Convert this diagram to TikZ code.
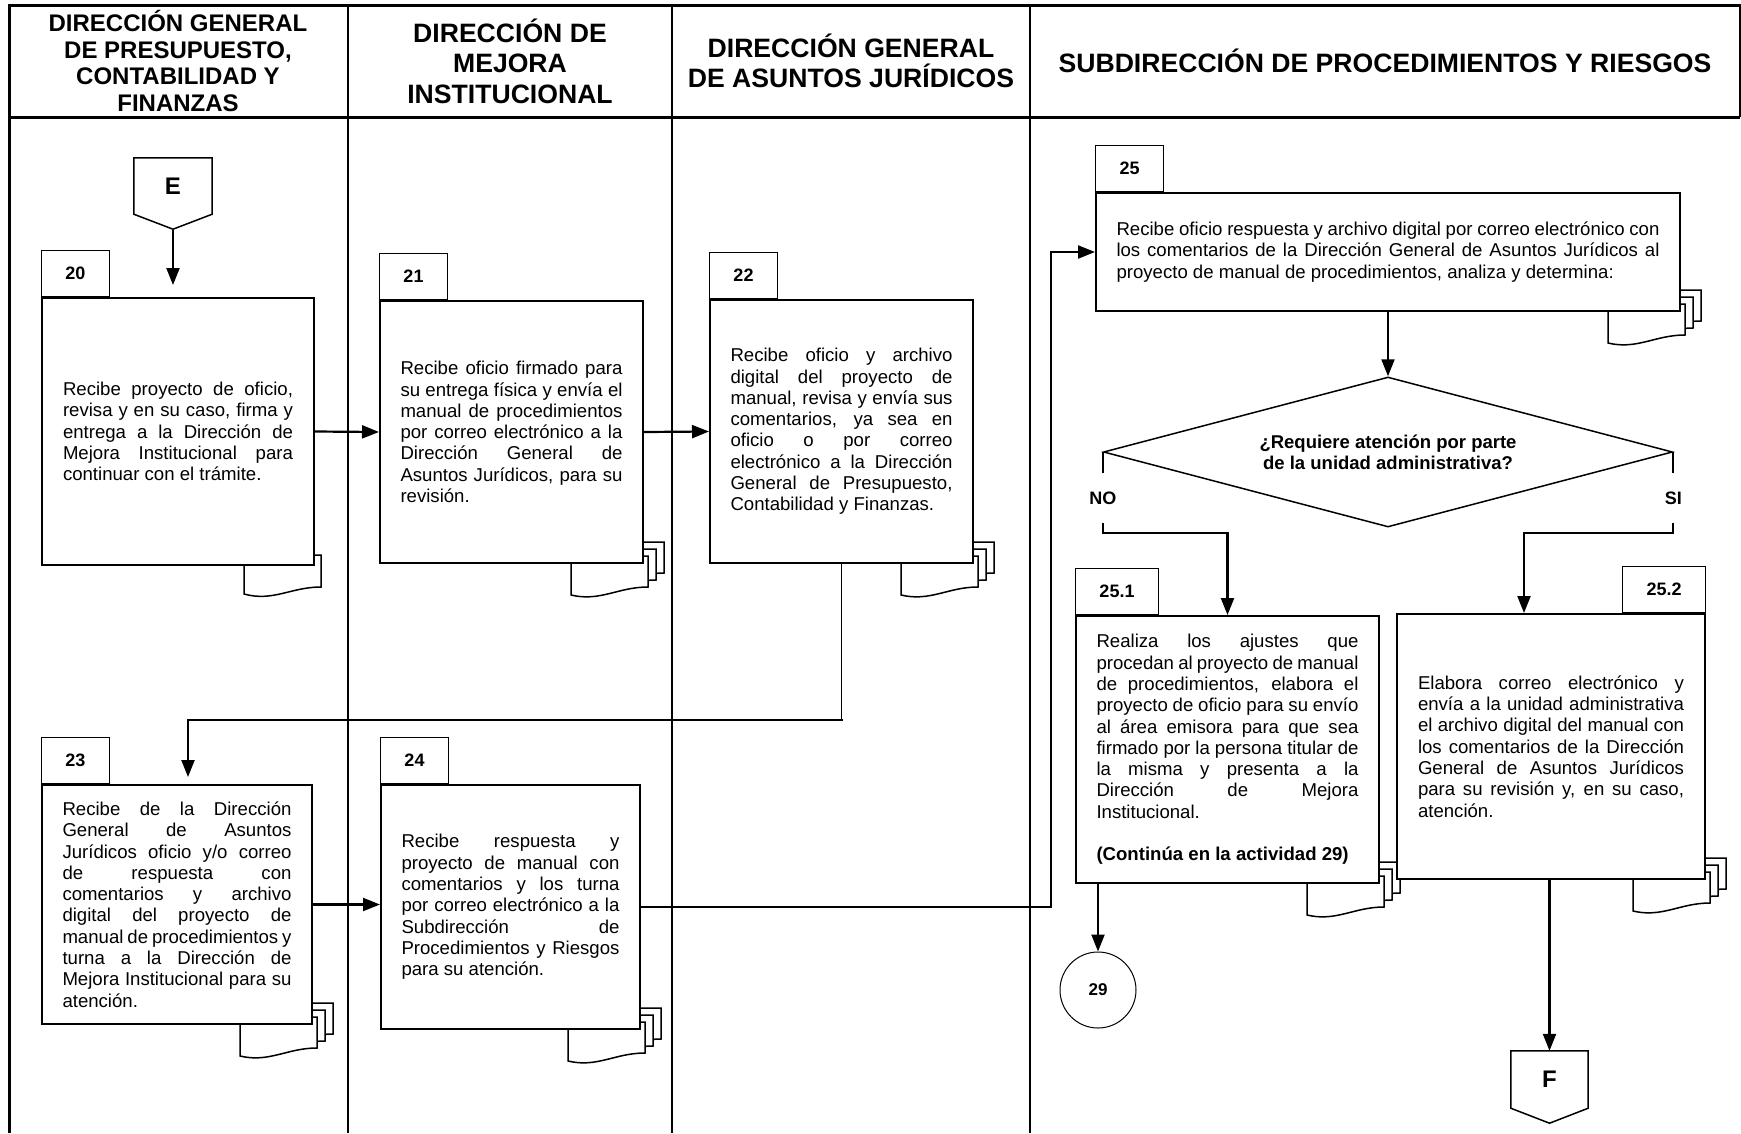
\documentclass[tikz,border=0pt]{standalone}
\usepackage{fontspec}
\setmainfont{Liberation Sans}
\usetikzlibrary{positioning,arrows.meta,shapes.geometric,backgrounds}
\tolerance=10000
\hbadness=10000
\begin{document}
\begin{tikzpicture}[x=1pt,y=-1pt,
  font=\fontsize{18.6}{21.3}\selectfont,
  frame/.style={line width=3pt},
  lane/.style={line width=2pt},
  head/.style={align=center,font=\fontsize{26.6}{30.5}\selectfont\bfseries},
  stepbox/.style={draw,line width=2pt,fill=white,anchor=north west,align=justify,inner sep=0pt},
  tab/.style={draw,line width=1pt,fill=white,minimum width=68pt,minimum height=46pt,inner sep=0pt,font=\fontsize{18}{20}\selectfont\bfseries},
  widetab/.style={tab,minimum width=83pt},
  sheet/.style={draw,line width=1.5pt,fill=white},
  offpage/.style={minimum width=78pt,minimum height=56pt,inner sep=0pt,font=\fontsize{24}{24}\selectfont\bfseries},
  decision/.style={diamond,draw,line width=1.5pt,minimum width=569pt,minimum height=150pt,aspect=3.8,inner sep=0pt,align=center,font=\fontsize{18.5}{21}\selectfont\bfseries},
  answer/.style={fill=white,inner xsep=1pt,minimum height=50pt,font=\fontsize{18}{20}\selectfont\bfseries},
  connector/.style={circle,draw,line width=1pt,minimum size=76pt,inner sep=0pt,font=\fontsize{17}{20}\selectfont\bfseries},
  flow/.style={line width=2.2pt,->},
  >={Triangle[width=13pt,length=17pt]}]
\useasboundingbox (0,0) rectangle (1741,1133);
\draw[frame] (9,1133) -- (9,5) -- (1740,5) -- (1740,117);
\draw[frame] (9,117) -- (1740,117);
\foreach \x in {348,672,1030} \draw[lane] (\x,5) -- (\x,1133);
\node[head,font=\fontsize{24}{26.6}\selectfont\bfseries] (h1) at (178,61) {DIRECCIÓN GENERAL\\DE PRESUPUESTO,\\CONTABILIDAD Y\\FINANZAS};
\node[head] (h2) at (510,61) {DIRECCIÓN DE\\MEJORA\\INSTITUCIONAL};
\node[head] (h3) at (851,61) {DIRECCIÓN GENERAL\\DE ASUNTOS JURÍDICOS};
\node[head] (h4) at (1385,61) {SUBDIRECCIÓN DE PROCEDIMIENTOS Y RIESGOS};
\node[offpage] (E) at (173,186) {E};
\coordinate (Etip) at ([yshift=-16pt]E.south);
\node[stepbox,minimum width=272pt,minimum height=267pt,text width=230pt] (s20) at (41,297) {Recibe proyecto de oficio,\linebreak revisa y en su caso, firma y\linebreak entrega a la Dirección de\linebreak Mejora Institucional para\linebreak continuar con el trámite.};
\node[stepbox,minimum width=263pt,minimum height=262pt,text width=222pt] (s21) at (379,300) {Recibe oficio firmado para\linebreak su entrega física y envía el\linebreak manual de procedimientos\linebreak por correo electrónico a la\linebreak Dirección General de\linebreak Asuntos Jurídicos, para su\linebreak revisión.};
\node[stepbox,minimum width=263pt,minimum height=263pt,text width=222pt] (s22) at (709,299) {Recibe oficio y archivo\linebreak digital del proyecto de\linebreak manual, revisa y envía sus\linebreak comentarios, ya sea en\linebreak oficio o por correo\linebreak electrónico a la Dirección\linebreak General de Presupuesto,\linebreak Contabilidad y Finanzas.};
\node[stepbox,minimum width=270pt,minimum height=239pt,text width=229pt] (s23) at (41,784) {Recibe de la Dirección\linebreak General de Asuntos\linebreak Jurídicos oficio y/o correo\linebreak de respuesta con\linebreak comentarios y archivo\linebreak digital del proyecto de\linebreak manual de procedimientos y\linebreak turna a la Dirección de\linebreak Mejora Institucional para su\linebreak atención.};
\node[stepbox,minimum width=259pt,minimum height=244pt,text width=218pt] (s24) at (380,784) {Recibe respuesta y\linebreak proyecto de manual con\linebreak comentarios y los turna\linebreak por correo electrónico a la\linebreak Subdirección de\linebreak Procedimientos y Riesgos\linebreak para su atención.};
\node[stepbox,minimum width=584pt,minimum height=118pt,text width=543pt] (s25) at (1095,192) {Recibe oficio respuesta y archivo digital por correo electrónico con\linebreak los comentarios de la Dirección General de Asuntos Jurídicos al\linebreak proyecto de manual de procedimientos, analiza y determina:};
\node[decision] (dec) at (1388,452) {¿Requiere atención por parte\\de la unidad administrativa?};
\node[stepbox,minimum width=303pt,minimum height=267pt,text width=262pt] (s251) at (1075,615) {Realiza los ajustes que\linebreak procedan al proyecto de manual\linebreak de procedimientos, elabora el\linebreak proyecto de oficio para su envío\linebreak al área emisora para que sea\linebreak firmado por la persona titular de\linebreak la misma y presenta a la\linebreak Dirección de Mejora\linebreak Institucional.\par\vspace{\baselineskip}\textbf{(Continúa en la actividad 29)}};
\node[stepbox,minimum width=308pt,minimum height=265pt,text width=266pt] (s252) at (1396,613) {Elabora correo electrónico y\linebreak envía a la unidad administrativa\linebreak el archivo digital del manual con\linebreak los comentarios de la Dirección\linebreak General de Asuntos Jurídicos\linebreak para su revisión y, en su caso,\linebreak atención.};
\node[connector] (c29) at (1098,990) {29};
\node[offpage,minimum width=77pt,minimum height=57pt] (F) at (1549.5,1079.5) {F};
\node[tab,above right=0pt of s20.north west] (t20) {20};
\node[tab,above right=0pt of s21.north west] (t21) {21};
\node[tab,above right=0pt of s22.north west] (t22) {22};
\node[tab,above right=0pt of s23.north west] (t23) {23};
\node[tab,above right=0pt of s24.north west] (t24) {24};
\node[tab,above right=0pt of s25.north west] (t25) {25};
\node[widetab,above right=0pt of s251.north west] (t251) {25.1};
\node[widetab,above left=0pt of s252.north east] (t252) {25.2};
\foreach \p in {E,F}
  \draw[line width=1.5pt] (\p.north west) -- (\p.north east) -- (\p.south east) -- ([yshift=-15pt]\p.south) -- (\p.south west) -- cycle;
\begin{scope}[on background layer]
\path[sheet,shift={(s20.south east)},xshift=2pt] (-73,-11) -- (4,-11) -- (4,21) .. controls (-26,21) and (-44,36) .. (-73,28) -- cycle;
\foreach \b in {s21,s22,s23,s24,s25,s251,s252}
  \foreach \k in {2,1,0}
    \path[sheet,shift={(\b.south east)},xshift=\k*8pt,yshift=\k*7pt] (-73,-8) -- (4,-8) -- (4,23) .. controls (-26,23) and (-44,38) .. (-73,31) -- cycle;
\end{scope}
\draw[flow,shorten >=12pt] (Etip) -- (Etip |- s20.north);
\draw[flow] (s20.east) -- (s21.west);
\draw[flow] (s21.east) -- (s22.west);
\draw[line width=1pt] (s22.south) -- ++(0,156) coordinate (turn22);
\draw[flow,shorten >=7pt] ([xshift=1pt]turn22) -| ([xshift=11pt]s23.north);
\draw[flow] (s23.east) -- (s23.east -| s24.west);
\draw[flow] (s24.east) -| ([xshift=-44pt]s25.west) -- (s25.west);
\draw[flow] (s25.south -| dec.north) -- (dec.north);
\draw[flow] (dec.west) -- ++(0,81) node[answer,pos=0.57] {NO} -| (s251.north);
\draw[flow] (dec.east) -- ++(0,81) node[answer,pos=0.57] {SI} -| ([xshift=-27pt]s252.north);
\draw[flow] (c29.north |- s251.south) -- (c29.north);
\draw[flow] (s252.south -| F.north) -- (F.north);
\end{tikzpicture}
\end{document}
